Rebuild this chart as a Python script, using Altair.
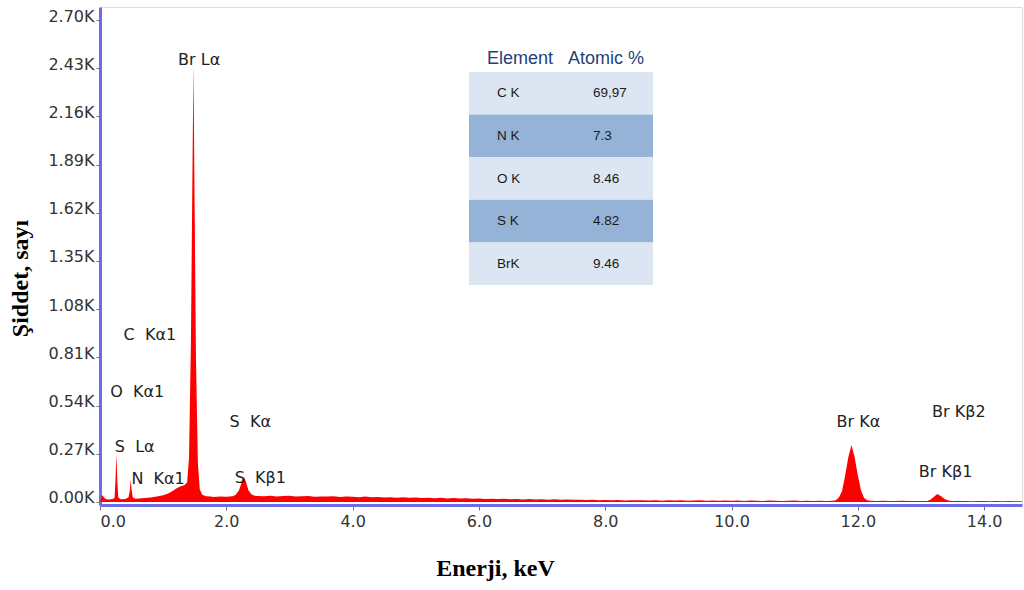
import altair as alt
import pandas as pd

# ---------------- spectrum ----------------
energy = [
    0.00, 0.02, 0.04, 0.07, 0.10, 0.15, 0.20, 0.23, 0.245, 0.26, 0.275, 0.29,
    0.33, 0.40, 0.45, 0.47, 0.485, 0.50, 0.52, 0.56, 0.62, 0.70, 0.80, 0.90,
    1.00, 1.08, 1.15, 1.22, 1.28, 1.34, 1.38, 1.41, 1.44, 1.46, 1.48, 1.50,
    1.52, 1.55, 1.58, 1.62, 1.68, 1.75, 1.80, 1.90, 2.00, 2.10, 2.15, 2.20,
    2.25, 2.28, 2.31, 2.35, 2.40, 2.45,
    2.5, 2.6, 2.7, 2.8, 2.9, 3.0, 3.1, 3.2, 3.3, 3.4, 3.5, 3.6, 3.7, 3.8, 3.9,
    4.0, 4.1, 4.2, 4.3, 4.4, 4.5, 4.6, 4.7, 4.8, 4.9, 5.0, 5.1, 5.2, 5.3, 5.4,
    5.5, 5.6, 5.7, 5.8, 5.9,
    6.0, 6.1, 6.2, 6.3, 6.4, 6.5, 6.6, 6.7, 6.8, 6.9, 7.0, 7.1, 7.2, 7.3, 7.4,
    7.5, 7.6, 7.7, 7.8, 7.9,
    8.0, 8.1, 8.2, 8.3, 8.4, 8.5, 8.6, 8.7, 8.8, 8.9, 9.0, 9.1, 9.2, 9.3, 9.4,
    9.5, 9.6, 9.7, 9.8, 9.9,
    10.0, 10.1, 10.2, 10.3, 10.4, 10.5, 10.6, 10.7, 10.8, 10.9, 11.0, 11.1,
    11.2, 11.3, 11.4, 11.5, 11.6,
    11.65, 11.7, 11.75, 11.8, 11.85, 11.9, 11.95, 12.0, 12.05, 12.1, 12.15,
    12.2, 12.3, 12.4, 12.5, 12.6, 12.7, 12.8, 12.9, 13.0, 13.1,
    13.15, 13.2, 13.26, 13.32, 13.38, 13.45,
    13.5, 13.6, 13.7, 13.8, 13.9, 14.0, 14.1, 14.2, 14.3, 14.4, 14.5, 14.6,
]
counts = [
    0, 30, 38, 22, 15, 14, 16, 22, 120, 270, 110, 25,
    15, 17, 25, 60, 125, 70, 25, 18, 20, 22, 25, 30,
    38, 48, 62, 78, 88, 95, 110, 250, 900, 1700, 2450, 1600,
    800, 220, 70, 40, 32, 30, 28, 30, 29, 32, 40, 65,
    115, 140, 115, 65, 42, 35,
    34, 32, 35, 31, 33, 35, 30, 32, 33, 29, 31, 30, 32, 28, 30,
    29, 27, 30, 26, 28, 25, 27, 24, 26, 23, 25, 22, 24, 21, 23,
    20, 22, 19, 21, 18,
    19, 17, 18, 16, 18, 15, 17, 14, 16, 14, 15, 13, 15, 12, 14,
    12, 13, 11, 12, 10,
    11, 9, 11, 8, 10, 9, 10, 8, 9, 7, 9, 8, 9, 7, 8,
    9, 7, 8, 7, 8,
    7, 8, 6, 8, 7, 6, 8, 7, 6, 7, 8, 6,
    7, 6, 7, 6, 7,
    10, 25, 60, 150, 250, 319, 250, 150, 65, 22, 10,
    7, 6, 7, 5, 6, 7, 5, 6, 5, 6,
    12, 28, 45, 32, 15, 7,
    6, 5, 6, 4, 5, 6, 4, 5, 4, 5, 4, 4,
]

# ---------------- peak annotations ----------------
NB = "\u00a0"
annot_text = ["Br Lα", f"C{NB}{NB}Kα1", f"O{NB}{NB}Kα1", f"S{NB}{NB}Lα",
              f"N{NB}{NB}Kα1", f"S{NB}{NB}Kα", f"S{NB}{NB}Kβ1", "Br Kα",
              "Br Kβ2", "Br Kβ1"]
annot_x = [1.57, 0.79, 0.59, 0.55, 0.92, 2.38, 2.54, 12.01, 13.60, 13.39]
annot_y = [2476, 935, 616, 308, 129, 448, 134, 448, 504, 168]

# ---------------- composition table ----------------
table_header = ["Element", "Atomic %"]
table_elements = ["C K", "N K", "O K", "S K", "BrK"]
table_values = ["69,97", "7.3", "8.46", "4.82", "9.46"]

x_ticks = [0, 2, 4, 6, 8, 10, 12, 14]
y_ticks = [0, 270, 540, 810, 1080, 1350, 1620, 1890, 2160, 2430, 2700]

W, H = 922, 498
BLUE = "#6d6de8"

spec = pd.DataFrame({"energy": energy, "counts": counts})
ann = pd.DataFrame({"t": annot_text, "x": annot_x, "y": annot_y})
tab = pd.DataFrame({"el": table_elements, "val": table_values,
                    "row": list(range(len(table_elements)))})
hdr = pd.DataFrame({"h": table_header, "i": list(range(len(table_header)))})

xscale = alt.Scale(domain=[0, 14.6], nice=False, zero=False)
yscale = alt.Scale(domain=[-17, 2773], nice=False, zero=False)

area = alt.Chart(spec).mark_area(color="#ff0000", interpolate="linear").encode(
    x=alt.X("energy:Q", scale=xscale,
            axis=alt.Axis(values=x_ticks, format=".1f", title="Enerji, keV",
                          grid=False, domainColor=BLUE, domainWidth=3,
                          tickColor="#777777", tickSize=5, labelColor="#333333",
                          labelFont="DejaVu Sans", labelFontSize=16,
                          labelPadding=3,
                          titleFont="Liberation Serif", titleFontSize=24,
                          titleFontWeight="bold", titleColor="#000000",
                          titleX=395, titleY=75, titleAlign="center",
                          titleBaseline="bottom")),
    y=alt.Y("counts:Q", scale=yscale,
            axis=alt.Axis(values=y_ticks,
                          labelExpr="format(datum.value/1000, '.2f') + 'K'",
                          title="Şiddet, sayı", grid=False, domainColor=BLUE,
                          domainWidth=3, tickColor="#777777", tickSize=4,
                          labelColor="#333333", labelFont="DejaVu Sans",
                          labelFontSize=16, labelPadding=2, labelOffset=-4,
                          titleFont="Liberation Serif", titleFontSize=24,
                          titleFontWeight="bold", titleColor="#000000",
                          titleAngle=-90, titleX=-80, titleY=271,
                          titleAlign="center", titleBaseline="middle")),
    y2=alt.value(H),
)

labels = alt.Chart(ann).mark_text(font="DejaVu Sans", fontSize=16,
                                  color="#222222").encode(
    x=alt.X("x:Q", scale=xscale, axis=None),
    y=alt.Y("y:Q", scale=yscale, axis=None),
    text="t:N",
)

row_h = 42.6
rows = alt.Chart(tab).transform_calculate(
    y0=f"65 + datum.row * {row_h}",
    y1=f"65 + (datum.row + 1) * {row_h}",
    shade="datum.row % 2 == 0 ? 'light' : 'dark'",
).mark_rect().encode(
    x=alt.value(369), x2=alt.value(553),
    y=alt.Y("y0:Q", scale=None, axis=None), y2="y1:Q",
    color=alt.Color("shade:N", legend=None,
                    scale=alt.Scale(domain=["light", "dark"],
                                    range=["#dce6f2", "#95b3d7"])),
)

row_base = alt.Chart(tab).transform_calculate(
    ym=f"65 + (datum.row + 0.5) * {row_h}")
row_el = row_base.mark_text(font="Liberation Sans", fontSize=13.5,
                            color="#1a1a1a", align="left").encode(
    x=alt.value(397), y=alt.Y("ym:Q", scale=None, axis=None), text="el:N")
row_val = row_base.mark_text(font="Liberation Sans", fontSize=13.5,
                             color="#1a1a1a", align="left").encode(
    x=alt.value(493), y=alt.Y("ym:Q", scale=None, axis=None), text="val:N")

header = alt.Chart(hdr).transform_calculate(
    hx="420 + datum.i * 86").mark_text(
    font="Liberation Sans", fontSize=18, color="#1f3f7a").encode(
    x=alt.X("hx:Q", scale=None, axis=None), y=alt.value(52), text="h:N")

chart = alt.layer(area, labels, rows, row_el, row_val, header).resolve_scale(
    x="independent", y="independent", color="independent"
).properties(
    width=W, height=H,
    autosize=alt.AutoSizeParams(type="none"),
    padding={"left": 100, "top": 7, "right": 2, "bottom": 85},
).configure_view(stroke=BLUE, strokeWidth=2).configure(background="white")

chart.save("out.html", embed_options={"renderer": "svg", "actions": False})
